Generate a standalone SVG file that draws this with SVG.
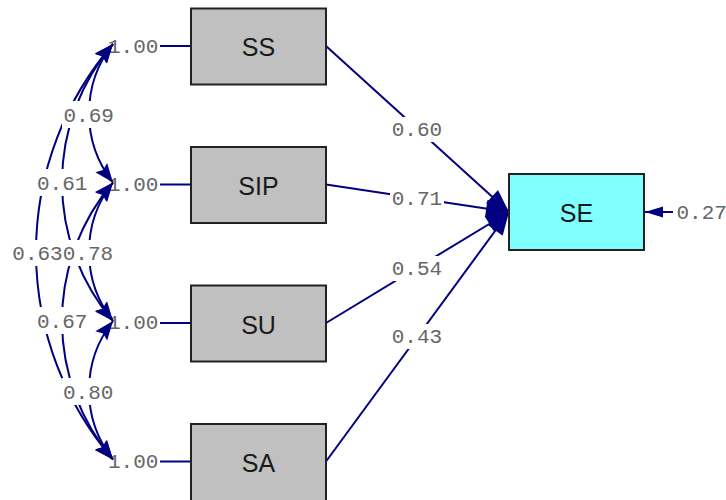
<svg xmlns="http://www.w3.org/2000/svg" width="726" height="500" viewBox="0 0 726 500">
<defs>
<style>
.box{fill:#C0C0C0;stroke:#222;stroke-width:2}
.se{fill:#80FFFF;stroke:#222;stroke-width:2}
.nt{font-family:"Liberation Sans",Arial,sans-serif;font-size:25px;fill:#1a1a1a;text-anchor:middle}
.lb{font-family:"Liberation Mono","Courier New",monospace;font-size:21px;fill:#666}
.ln{fill:none;stroke:#000080;stroke-width:2}
.bg{fill:#fff}
</style>
<marker id="ac" viewBox="-21 -9 23 18" refX="0" refY="0" markerWidth="23" markerHeight="18" markerUnits="userSpaceOnUse" orient="auto-start-reverse">
<path d="M0,0 L-19,-7.5 L-16,0 L-19,7.5 Z" fill="#000080"/>
</marker>
<marker id="ap" viewBox="-26 -11 28 22" refX="0" refY="0" markerWidth="28" markerHeight="22" markerUnits="userSpaceOnUse" orient="auto">
<path d="M0,0 L-23,-9 L-23,9 Z" fill="#000080"/>
</marker>
<marker id="ae" viewBox="-20 -8 22 16" refX="0" refY="0" markerWidth="22" markerHeight="16" markerUnits="userSpaceOnUse" orient="auto">
<path d="M0,0 L-18,-5.5 L-18,5.5 Z" fill="#000080"/>
</marker>
</defs>
<rect width="726" height="500" fill="#fff"/>

<g id="variance-labels">
<text class="lb" x="108" y="53">1.00</text>
<text class="lb" x="108" y="191">1.00</text>
<text class="lb" x="108" y="329">1.00</text>
<text class="lb" x="108" y="468">1.00</text>
</g>

<g id="connectors">
<path class="ln" d="M160,46 H191"/>
<path class="ln" d="M160,184.5 H191"/>
<path class="ln" d="M160,323 H191"/>
<path class="ln" d="M160,461.5 H191"/>
<path class="ln" d="M326,46 L509,212" marker-end="url(#ap)"/>
<path class="ln" d="M326,184.5 L509,212" marker-end="url(#ap)"/>
<path class="ln" d="M326,323 L509,212" marker-end="url(#ap)"/>
<path class="ln" d="M326,461.5 L509,212" marker-end="url(#ap)"/>
<path class="ln" d="M673,212 H645" marker-end="url(#ae)"/>
<path class="ln" d="M113,44 A112,112 0 0 0 113,182.5" marker-start="url(#ac)" marker-end="url(#ac)"/>
<path class="ln" d="M113,182.5 A112,112 0 0 0 113,321" marker-start="url(#ac)" marker-end="url(#ac)"/>
<path class="ln" d="M113,321 A112,112 0 0 0 113,459.5" marker-start="url(#ac)" marker-end="url(#ac)"/>
<path class="ln" d="M113,44 A213.6,213.6 0 0 0 113,321" marker-start="url(#ac)" marker-end="url(#ac)"/>
<path class="ln" d="M113,182.5 A213.6,213.6 0 0 0 113,459.5" marker-start="url(#ac)" marker-end="url(#ac)"/>
<path class="ln" d="M113,44 A318.8,318.8 0 0 0 113,459.5" marker-start="url(#ac)" marker-end="url(#ac)"/>
</g>

<g id="path-labels">
<rect class="bg" x="62" y="101" width="53" height="27"/>
<text class="lb" x="63.5" y="122">0.69</text>
<rect class="bg" x="35.5" y="169" width="53" height="27"/>
<text class="lb" x="37" y="190">0.61</text>
<rect class="bg" x="11" y="240" width="103" height="26"/>
<text class="lb" x="12.3" y="260">0.63</text>
<text class="lb" x="62.7" y="260">0.78</text>
<rect class="bg" x="35.5" y="307" width="53" height="27"/>
<text class="lb" x="37" y="328">0.67</text>
<rect class="bg" x="61.5" y="378" width="53" height="27"/>
<text class="lb" x="63" y="399">0.80</text>
<rect class="bg" x="390" y="117" width="54" height="25"/>
<text class="lb" x="391.7" y="136">0.60</text>
<rect class="bg" x="390" y="186" width="54" height="25"/>
<text class="lb" x="391.7" y="205">0.71</text>
<rect class="bg" x="390" y="256" width="54" height="25"/>
<text class="lb" x="391.7" y="275">0.54</text>
<rect class="bg" x="390" y="324" width="54" height="25"/>
<text class="lb" x="391.7" y="343">0.43</text>
<text class="lb" x="676.5" y="219">0.27</text>
</g>

<g id="SS">
<rect class="box" x="191" y="8.5" width="135" height="76"/>
<text class="nt" x="258.5" y="56">SS</text>
</g>
<g id="SIP">
<rect class="box" x="191" y="147" width="135" height="76"/>
<text class="nt" x="258.5" y="195">SIP</text>
</g>
<g id="SU">
<rect class="box" x="191" y="285.5" width="135" height="76"/>
<text class="nt" x="258.5" y="333.5">SU</text>
</g>
<g id="SA">
<rect class="box" x="191" y="424" width="135" height="77"/>
<text class="nt" x="258.5" y="472">SA</text>
</g>
<g id="SE">
<rect class="se" x="509" y="174" width="135" height="76"/>
<text class="nt" x="576.5" y="222">SE</text>
</g>
</svg>
